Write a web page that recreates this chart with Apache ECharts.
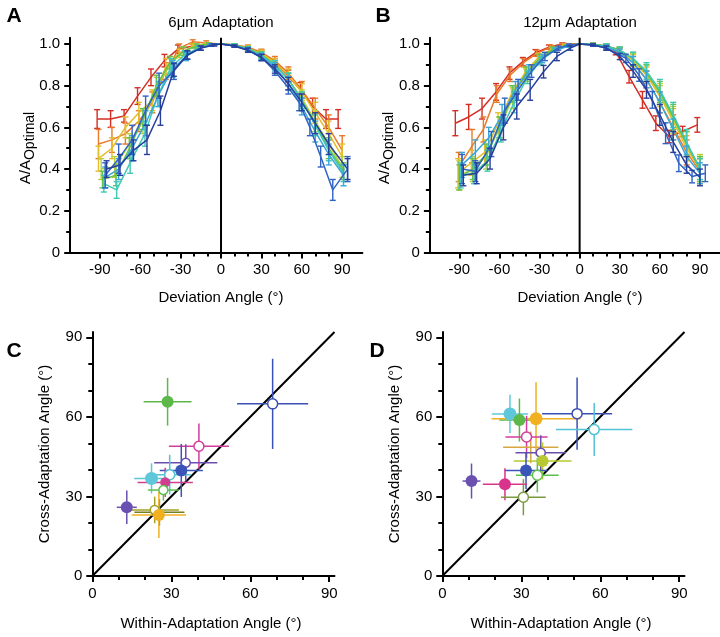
<!DOCTYPE html>
<html><head><meta charset="utf-8">
<script src="https://cdn.jsdelivr.net/npm/echarts@6/dist/echarts.min.js"></script>
<style>html,body{margin:0;padding:0;background:#fff}#c{width:720px;height:637px}</style>
</head><body><div id="c"></div>
<script>
// ---------------- tick values ----------------
const devTicks = [-90,-60,-30,0,30,60,90];
const devMinor = [-80,-70,-50,-40,-20,-10,10,20,40,50,70,80];
const ratioTicks = [0,0.2,0.4,0.6,0.8,1.0];
const ratioMinor = [0.1,0.3,0.5,0.7,0.9];
const angTicks = [0,30,60,90];
const angMinor = [10,20,40,50,70,80];

// ---------------- Panel A (6um adaptation): [deviation angle, A/Aopt, sem] ----------------
const A6_red = [[-92,0.64,0.045],[-82,0.64,0.04],[-72,0.655,0.03],[-62,0.75,0.04],[-52,0.84,0.04],[-42,0.92,0.03],[-32,0.975,0.02],[-21,0.99,0.01],[-11,1.0,0.005],[0,1.0,0],[10,0.995,0.005],[20,0.98,0.01],[30,0.955,0.015],[40,0.91,0.02],[50,0.845,0.03],[59,0.78,0.035],[68,0.7,0.04],[78,0.64,0.045],[87,0.64,0.045]];
const A6_orange = [[-91,0.52,0.07],[-81,0.54,0.06],[-71,0.57,0.05],[-61,0.63,0.05],[-51,0.72,0.05],[-41,0.87,0.04],[-31,0.98,0.02],[-21,1.01,0.01],[-11,1.005,0.01],[0,1.0,0],[10,0.995,0.005],[20,0.985,0.01],[30,0.96,0.015],[40,0.92,0.02],[50,0.86,0.03],[60,0.78,0.04],[70,0.69,0.05],[80,0.6,0.06],[90,0.49,0.07]];
const A6_yellow = [[-91,0.45,0.06],[-81,0.5,0.05],[-71,0.6,0.05],[-61,0.67,0.05],[-51,0.73,0.05],[-41,0.89,0.04],[-31,0.955,0.02],[-21,0.99,0.01],[-11,1.0,0.005],[0,1,0],[10,0.995,0.005],[20,0.98,0.01],[30,0.955,0.015],[40,0.91,0.02],[50,0.85,0.03],[60,0.77,0.04],[70,0.67,0.05],[80,0.57,0.06],[90,0.46,0.06]];
const A6_ygreen = [[-89,0.4,0.05],[-79,0.41,0.05],[-68,0.52,0.05],[-58,0.63,0.06],[-48,0.79,0.05],[-38,0.9,0.04],[-28,0.965,0.02],[-19,0.99,0.01],[-9,1.0,0.005],[0,1,0],[10,0.995,0.005],[20,0.98,0.01],[30,0.95,0.015],[40,0.9,0.02],[50,0.83,0.03],[60,0.74,0.04],[70,0.63,0.05],[80,0.52,0.05],[90,0.41,0.05]];
const A6_green = [[-88,0.35,0.04],[-78,0.37,0.05],[-68,0.5,0.05],[-58,0.64,0.05],[-48,0.8,0.05],[-38,0.91,0.03],[-28,0.965,0.02],[-18,0.99,0.01],[-9,1.0,0.005],[0,1,0],[10,0.995,0.005],[20,0.978,0.01],[30,0.948,0.015],[40,0.9,0.02],[50,0.83,0.03],[60,0.73,0.04],[70,0.62,0.05],[80,0.5,0.05],[91,0.39,0.04]];
const A6_teal = [[-87,0.33,0.04],[-77.5,0.3,0.04],[-67.5,0.43,0.05],[-56.5,0.57,0.06],[-47,0.75,0.05],[-37,0.89,0.04],[-27,0.947,0.02],[-17,0.98,0.01],[-8,0.995,0.005],[0,1,0],[10,0.995,0.005],[20,0.975,0.01],[30,0.945,0.015],[40,0.9,0.02],[50,0.83,0.03],[60,0.73,0.04],[70,0.61,0.05],[80,0.49,0.05],[91,0.38,0.04]];
const A6_lblue = [[-86,0.36,0.05],[-76,0.4,0.05],[-66,0.5,0.06],[-56,0.62,0.06],[-46,0.76,0.06],[-36,0.88,0.04],[-26,0.94,0.02],[-16,0.98,0.01],[-8,0.995,0.005],[0,1,0],[10,0.99,0.005],[20,0.975,0.01],[30,0.94,0.015],[40,0.89,0.02],[50,0.81,0.03],[60,0.7,0.04],[70,0.58,0.05],[80,0.47,0.05],[91,0.37,0.05]];
const A6_blue = [[-86,0.37,0.06],[-76,0.45,0.07],[-66,0.54,0.07],[-56,0.68,0.07],[-46,0.8,0.06],[-35,0.87,0.04],[-25,0.947,0.02],[-15,0.98,0.01],[-7,0.995,0.005],[0,1,0],[10,0.99,0.005],[20,0.97,0.01],[30,0.935,0.015],[40,0.87,0.02],[50,0.79,0.03],[58,0.72,0.04],[66,0.6,0.04],[74,0.46,0.05],[83,0.3,0.05],[94,0.4,0.06]];
const A6_dblue = [[-85,0.4,0.04],[-75,0.42,0.05],[-65,0.49,0.05],[-55,0.54,0.07],[-45,0.68,0.07],[-35,0.875,0.03],[-25,0.947,0.02],[-15,0.98,0.01],[-5,0.995,0.005],[0,1,0],[10,0.99,0.005],[20,0.97,0.01],[30,0.935,0.015],[40,0.88,0.02],[50,0.81,0.03],[60,0.72,0.04],[70,0.62,0.05],[80,0.52,0.05],[94,0.4,0.05]];

// ---------------- Panel B (12um adaptation) ----------------
const B12_red = [[-93,0.62,0.06],[-83,0.65,0.06],[-73,0.69,0.05],[-62.5,0.77,0.04],[-52.5,0.86,0.03],[-42.5,0.915,0.02],[-33,0.958,0.015],[-23,0.985,0.01],[-13,1.0,0.005],[0,1,0],[10,1.0,0.005],[20,0.987,0.01],[27,0.963,0.015],[37,0.843,0.03],[47,0.732,0.04],[57,0.62,0.035],[67,0.556,0.03],[77,0.58,0.025],[88,0.612,0.035]];
const B12_orange = [[-90.5,0.41,0.07],[-80.5,0.51,0.08],[-72,0.59,0.06],[-62,0.76,0.04],[-52,0.85,0.03],[-42,0.91,0.02],[-32,0.955,0.015],[-22,0.985,0.01],[-12,0.998,0.005],[0,1,0],[10,0.998,0.005],[20,0.99,0.01],[30,0.965,0.015],[40,0.91,0.03],[50,0.83,0.04],[60,0.72,0.05],[70,0.6,0.06],[80,0.48,0.06],[90,0.39,0.06]];
const B12_yellow = [[-91,0.38,0.07],[-81,0.43,0.06],[-71,0.48,0.06],[-61,0.62,0.05],[-51,0.76,0.04],[-41,0.86,0.03],[-31,0.935,0.02],[-21,0.975,0.01],[-11,0.995,0.005],[0,1,0],[10,0.998,0.005],[20,0.99,0.01],[30,0.97,0.015],[40,0.92,0.03],[50,0.85,0.04],[60,0.75,0.05],[70,0.63,0.06],[80,0.5,0.06],[90,0.4,0.06]];
const B12_ygreen = [[-90,0.37,0.07],[-80,0.4,0.06],[-70,0.46,0.06],[-60,0.6,0.05],[-50,0.74,0.05],[-40,0.85,0.03],[-30,0.93,0.02],[-20,0.97,0.01],[-10,0.99,0.005],[0,1,0],[10,0.998,0.005],[20,0.99,0.01],[30,0.97,0.015],[40,0.925,0.03],[50,0.86,0.04],[60,0.76,0.05],[70,0.64,0.06],[80,0.52,0.06],[90,0.41,0.06]];
const B12_green = [[-90,0.36,0.06],[-80,0.4,0.05],[-70,0.47,0.05],[-60,0.6,0.05],[-50,0.76,0.04],[-40,0.86,0.03],[-30,0.93,0.02],[-20,0.975,0.01],[-10,0.99,0.005],[0,1,0],[10,0.998,0.005],[20,0.99,0.01],[30,0.97,0.015],[40,0.93,0.03],[50,0.86,0.04],[60,0.77,0.05],[70,0.65,0.06],[80,0.52,0.06],[90,0.4,0.06]];
const B12_teal = [[-89,0.37,0.06],[-79,0.38,0.05],[-69,0.44,0.05],[-59,0.58,0.05],[-49,0.72,0.05],[-39,0.84,0.03],[-29,0.92,0.02],[-19,0.97,0.01],[-9,0.99,0.005],[0,1,0],[10,0.998,0.005],[20,0.99,0.01],[30,0.97,0.015],[40,0.93,0.03],[50,0.87,0.04],[60,0.78,0.05],[70,0.66,0.06],[80,0.53,0.06],[90,0.4,0.05]];
const B12_lblue = [[-88,0.42,0.06],[-78,0.48,0.06],[-68,0.55,0.05],[-58,0.66,0.05],[-48,0.78,0.04],[-38,0.87,0.03],[-28,0.93,0.02],[-18,0.97,0.01],[-8,0.99,0.005],[0,1,0],[10,0.995,0.005],[20,0.985,0.01],[30,0.96,0.015],[40,0.91,0.03],[50,0.83,0.04],[60,0.72,0.05],[70,0.59,0.05],[80,0.46,0.05],[90,0.38,0.05]];
const B12_blue = [[-88,0.4,0.07],[-78,0.39,0.05],[-66,0.52,0.06],[-56,0.68,0.06],[-46,0.78,0.05],[-36,0.87,0.03],[-26,0.94,0.02],[-16,0.98,0.01],[-8,0.995,0.005],[0,1,0],[10,0.995,0.005],[20,0.98,0.01],[34.6,0.931,0.02],[44.5,0.851,0.03],[54.4,0.732,0.04],[64.3,0.572,0.05],[74.2,0.428,0.04],[84.1,0.364,0.03],[94,0.38,0.04]];
const B12_dblue = [[-87,0.37,0.05],[-77,0.38,0.05],[-67,0.45,0.05],[-57,0.6,0.06],[-47,0.7,0.06],[-37,0.78,0.05],[-27,0.867,0.03],[-17,0.94,0.02],[-7,0.98,0.01],[0,1,0],[10,0.995,0.005],[20,0.98,0.01],[30,0.94,0.015],[40,0.87,0.03],[50,0.78,0.04],[60,0.66,0.05],[70,0.53,0.05],[80,0.42,0.04],[90,0.36,0.04]];

// ---------------- Panel C: within vs cross adaptation angle ----------------
const C_within    = [28.6, 68.5, 40.5, 35.5, 33.8, 29.4, 22.5, 27.7, 27.0, 13.1, 25.5, 23.7, 25.3];
const C_cross     = [65.7, 64.9, 48.9, 42.7, 39.8, 38.2, 36.8, 35.3, 32.4, 25.9, 24.0, 24.9, 23.0];
const C_withinErr = [9.1, 13.5, 11.4, 12.0, 8.2, 8.0, 6.6, 10.5, 5.9, 3.8, 9.5, 9.2, 10.3];
const C_crossErr  = [9.0, 17.0, 8.6, 7.0, 10.0, 7.5, 5.7, 5.5, 4.0, 6.3, 5.0, 5.0, 8.7];

// ---------------- Panel D ----------------
const D_within    = [25.7, 29.3, 35.6, 51.2, 57.7, 32.0, 33.6, 37.4, 38.1, 31.8, 36.1, 11.1, 23.8, 30.8];
const D_cross     = [61.1, 58.8, 59.3, 61.2, 55.2, 52.4, 48.5, 46.5, 43.4, 39.8, 38.0, 35.8, 34.6, 29.7];
const D_withinErr = [6.9, 7.6, 16.9, 13.3, 14.5, 8.0, 10.5, 9.6, 11.0, 8.1, 8.1, 3.4, 8.4, 8.5];
const D_crossErr  = [7.2, 8.1, 13.8, 13.6, 10.0, 8.0, 6.0, 6.6, 7.0, 7.0, 6.5, 6.6, 6.0, 6.8];

// ---------------- styles ----------------
const FONT = 'Liberation Sans, Arial, Helvetica, sans-serif';
const curveColors = ['#d42e24','#e8792a','#e5bd2a','#b9d23a','#63c04f','#3fc9b4','#3aa7d6','#3163c2','#273f9c'];
const A6_all = [A6_red, A6_orange, A6_yellow, A6_ygreen, A6_green, A6_teal, A6_lblue, A6_blue, A6_dblue];
const B12_all = [B12_red, B12_orange, B12_yellow, B12_ygreen, B12_green, B12_teal, B12_lblue, B12_blue, B12_dblue];
const C_colors = ['#5cb848','#3a50b4','#d23c9c','#6a4fb0','#3a55b8','#52c2d4','#5ec8da','#d0408e','#5cc04c','#6a50b0','#6f7f22','#a5a020','#f0b020'];
const C_open   = [false,true,true,true,false,true,false,false,true,false,false,true,false];
const C_size   = [12,10,10,9,12,10,13,10,9,12,0,9,12];
const D_colors = ['#5ec8da','#5cb848','#f0b020','#3a50b4','#52c2d4','#d23c9c','#d8a840','#6a4fb0','#b8c830','#3a55b8','#5cc04c','#6a50b0','#d8348c','#7a9a40'];
const D_open   = [false,false,false,true,true,true,false,true,false,false,true,false,false,true];
const D_size   = [13,12,13,10,10,10,0,9,12,12,10,12,12,10];

// grids (pixel layout)
const grids = [
  {left:70.2, top:37.7, width:292.2, height:214.8},
  {left:429.9, top:37.7, width:292.2, height:214.8},
  {left:92.3, top:332, width:242.2, height:244},
  {left:442.3, top:332, width:242.2, height:244}
];

function mainAxis(gi, min, max, ticks, isY) {
  return {
    gridIndex: gi, type:'value', min:min, max:max, position: isY ? 'left' : 'bottom',
    axisLine:{show:true, onZero:false, lineStyle:{color:'#000', width:2}},
    axisTick:{show:true, inside:false, length:6, customValues:ticks, lineStyle:{color:'#000', width:2}},
    axisLabel:{show:true, customValues:ticks, color:'#000', fontSize:15, fontFamily:FONT, margin:10,
      formatter: v => (isY && max < 2) ? (v === 0 ? '0' : v.toFixed(1)) : String(Math.round(v))},
    splitLine:{show:false}
  };
}
function minorAxis(gi, min, max, ticks, isY) {
  return {
    gridIndex: gi, type:'value', min:min, max:max, position: isY ? 'left' : 'bottom', offset:0,
    axisLine:{show:false, onZero:false},
    axisTick:{show:true, inside:false, length:4, customValues:ticks, lineStyle:{color:'#000', width:2}},
    axisLabel:{show:false}, splitLine:{show:false}
  };
}

const xAxes = [
  mainAxis(0,-112,105,devTicks,false), minorAxis(0,-112,105,devMinor,false),
  mainAxis(1,-112,105,devTicks,false), minorAxis(1,-112,105,devMinor,false),
  mainAxis(2,0,92,angTicks,false), minorAxis(2,0,92,angMinor,false),
  mainAxis(3,0,92,angTicks,false), minorAxis(3,0,92,angMinor,false)
];
const yAxes = [
  mainAxis(0,0,1.03,ratioTicks,true), minorAxis(0,0,1.03,ratioMinor,true),
  mainAxis(1,0,1.03,ratioTicks,true), minorAxis(1,0,1.03,ratioMinor,true),
  mainAxis(2,0,92,angTicks,true), minorAxis(2,0,92,angMinor,true),
  mainAxis(3,0,92,angTicks,true), minorAxis(3,0,92,angMinor,true)
];

function vErr(params, api) {
  const x = api.value(0), y = api.value(1), e = api.value(2);
  if (!e) return null;
  const t = api.coord([x, y + e]), b = api.coord([x, y - e]);
  const w = 3;
  const style = {stroke: api.visual('color'), lineWidth: 1.4};
  return {type:'group', children:[
    {type:'line', shape:{x1:t[0],y1:t[1],x2:b[0],y2:b[1]}, style:style},
    {type:'line', shape:{x1:t[0]-w,y1:t[1],x2:t[0]+w,y2:t[1]}, style:style},
    {type:'line', shape:{x1:b[0]-w,y1:b[1],x2:b[0]+w,y2:b[1]}, style:style}
  ]};
}
function crossErr(params, api) {
  const x = api.value(0), y = api.value(1), ex = api.value(2), ey = api.value(3);
  const l = api.coord([x - ex, y]), r = api.coord([x + ex, y]);
  const t = api.coord([x, y + ey]), b = api.coord([x, y - ey]);
  const style = {stroke: api.visual('color'), lineWidth: 1.5};
  return {type:'group', children:[
    {type:'line', shape:{x1:l[0],y1:l[1],x2:r[0],y2:r[1]}, style:style},
    {type:'line', shape:{x1:t[0],y1:t[1],x2:b[0],y2:b[1]}, style:style}
  ]};
}

const series = [];
function addCurves(all, p) {
  all.forEach((d, i) => {
    const col = curveColors[i];
    series.push({type:'line', xAxisIndex:2*p, yAxisIndex:2*p, data:d.map(r => [r[0], r[1]]),
      showSymbol:false, symbol:'none', lineStyle:{color:col, width:1.5}, itemStyle:{color:col}, silent:true, z:2+i*0.01});
    series.push({type:'custom', xAxisIndex:2*p, yAxisIndex:2*p, data:d, renderItem:vErr,
      itemStyle:{color:col}, silent:true, z:2+i*0.01});
  });
  series.push({type:'line', xAxisIndex:2*p, yAxisIndex:2*p, data:[[0,0],[0,1.03]], showSymbol:false,
    symbol:'none', lineStyle:{color:'#000', width:2}, clip:false, silent:true, z:5});
}
addCurves(A6_all, 0);
addCurves(B12_all, 1);

function addScatter(p, wx, cy, ex, ey, cols, open, sizes) {
  series.push({type:'line', xAxisIndex:2*p, yAxisIndex:2*p, data:[[0,0],[92,92]], showSymbol:false,
    symbol:'none', lineStyle:{color:'#000', width:2}, silent:true, z:1});
  wx.forEach((x, i) => {
    series.push({type:'custom', xAxisIndex:2*p, yAxisIndex:2*p, data:[[x, cy[i], ex[i], ey[i]]],
      renderItem:crossErr, itemStyle:{color:cols[i]}, silent:true, z:2});
  });
  series.push({type:'scatter', xAxisIndex:2*p, yAxisIndex:2*p, silent:true, z:3,
    data: wx.map((x, i) => ({value:[x, cy[i]], symbolSize:sizes[i],
      itemStyle:{color: open[i] ? '#fff' : cols[i], borderColor: cols[i], borderWidth: open[i] ? 1.5 : 0, opacity:1}}))});
}
addScatter(2, C_within, C_cross, C_withinErr, C_crossErr, C_colors, C_open, C_size);
addScatter(3, D_within, D_cross, D_withinErr, D_crossErr, D_colors, D_open, D_size);

function txt(x, y, s, opts) {
  return Object.assign({type:'text', x:x, y:y, silent:true,
    style:Object.assign({text:s, fill:'#000', font:'15px ' + FONT, align:'center', verticalAlign:'middle'}, opts && opts.style || {})},
    opts && opts.extra || {});
}
const yRich = {text:'{a|A/A}{s|Optimal}', align:'center', verticalAlign:'middle', fill:'#000',
  rich:{a:{fontSize:15, fontFamily:FONT, lineHeight:18, verticalAlign:'top', fill:'#000'},
        s:{fontSize:14, fontFamily:FONT, lineHeight:18, verticalAlign:'top', padding:[5,0,0,0], fill:'#000'}}};

const graphic = [
  txt(14, 16, 'A', {style:{font:'bold 21px ' + FONT}}),
  txt(383, 16, 'B', {style:{font:'bold 21px ' + FONT}}),
  txt(14, 351, 'C', {style:{font:'bold 21px ' + FONT}}),
  txt(377, 351, 'D', {style:{font:'bold 21px ' + FONT}}),
  txt(221, 23, '6μm Adaptation'),
  txt(580, 23, '12μm Adaptation'),
  txt(221, 298, 'Deviation Angle (°)'),
  txt(580, 298, 'Deviation Angle (°)'),
  txt(211, 624, 'Within-Adaptation Angle (°)'),
  txt(561, 624, 'Within-Adaptation Angle (°)'),
  txt(45, 454, 'Cross-Adaptation Angle (°)', {extra:{rotation:Math.PI/2}}),
  txt(395, 454, 'Cross-Adaptation Angle (°)', {extra:{rotation:Math.PI/2}}),
  {type:'text', x:27, y:148, rotation:Math.PI/2, silent:true, style:yRich},
  {type:'text', x:386, y:148, rotation:Math.PI/2, silent:true, style:yRich}
];

const chart = echarts.init(document.getElementById('c'), null, {renderer:'canvas'});
chart.setOption({
  animation:false, backgroundColor:'#fff',
  grid: grids, xAxis: xAxes, yAxis: yAxes, series: series, graphic: graphic
});
</script></body></html>
